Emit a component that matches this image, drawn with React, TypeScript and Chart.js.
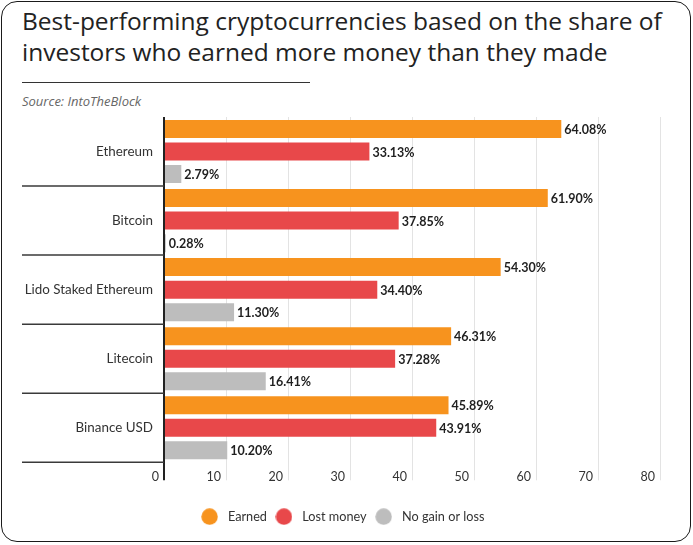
import React, { useEffect, useRef } from 'react';
import { Chart, registerables } from 'chart.js';

Chart.register(...registerables);

const categories = ['Ethereum', 'Bitcoin', 'Lido Staked Ethereum', 'Litecoin', 'Binance USD'];
const earned = [64.08, 61.9, 54.3, 46.31, 45.89];
const lostMoney = [33.13, 37.85, 34.4, 37.28, 43.91];
const noGainOrLoss = [2.79, 0.28, 11.3, 16.41, 10.2];
const seriesNames = ['Earned', 'Lost money', 'No gain or loss'];
const seriesColors = ['#F7931E', '#E8484A', '#BDBDBD'];
const xMin = 0;
const xMax = 80;
const xStep = 10;

const FONT = 'Lato, "Noto Sans", sans-serif';

function circleImage(color: string) {
  const c = document.createElement('canvas');
  c.width = 17;
  c.height = 17;
  const g = c.getContext('2d')!;
  g.fillStyle = color;
  g.beginPath();
  g.arc(8.5, 8.5, 8.2, 0, Math.PI * 2);
  g.fill();
  return c;
}

const separatorPlugin = {
  id: 'separators',
  afterLayout(chart: any) {
    // center the legend on the full canvas width rather than the padded area
    const lg = chart.legend;
    if (lg) {
      lg.left += 11;
      lg.right += 11;
    }
  },
  afterDraw(chart: any) {
    const y = chart.scales.y;
    const ctx = chart.ctx;
    const n = categories.length;
    ctx.save();
    ctx.strokeStyle = '#3a3a3a';
    ctx.lineWidth = 1.5;
    for (let i = 0; i < n; i++) {
      let b;
      if (i < n - 1) b = (y.getPixelForValue(i) + y.getPixelForValue(i + 1)) / 2;
      else b = y.getPixelForValue(i) + (y.getPixelForValue(i) - y.getPixelForValue(i - 1)) / 2;
      ctx.beginPath();
      ctx.moveTo(22, b);
      ctx.lineTo(chart.chartArea.left, b);
      ctx.stroke();
    }
    ctx.restore();
  },
};

const valueLabelPlugin = {
  id: 'valueLabels',
  afterDatasetsDraw(chart: any) {
    const ctx = chart.ctx;
    ctx.save();
    ctx.font = `bold 12.5px ${FONT}`;
    ctx.fillStyle = '#1f1f1f';
    ctx.textAlign = 'left';
    ctx.textBaseline = 'middle';
    chart.data.datasets.forEach((ds: any, di: number) => {
      const meta = chart.getDatasetMeta(di);
      meta.data.forEach((el: any, i: number) => {
        const v = ds.data[i] as number;
        ctx.fillText(v.toFixed(2) + '%', el.x + 3, el.y + 1);
      });
    });
    ctx.restore();
  },
};

function App() {
  const ref = useRef<HTMLCanvasElement | null>(null);

  useEffect(() => {
    if (!ref.current) return;
    const circles = seriesColors.map(circleImage);
    const chart = new Chart(ref.current, {
      type: 'bar',
      data: {
        labels: categories,
        datasets: [earned, lostMoney, noGainOrLoss].map((d, i) => ({
          label: seriesNames[i],
          data: d,
          backgroundColor: seriesColors[i],
          borderWidth: 0,
          categoryPercentage: 0.98,
          barPercentage: 0.8,
        })),
      },
      options: {
        indexAxis: 'y',
        animation: false,
        responsive: false,
        layout: { padding: { left: 0, right: 33, top: 7, bottom: 12 } },
        scales: {
          x: {
            min: xMin,
            max: xMax,
            ticks: {
              stepSize: xStep,
              align: 'end',
              labelOffset: -5,
              padding: -11,
              color: '#333',
              font: { family: FONT, size: 12.5 },
            },
            grid: {
              color: (c: any) => (c.tick && c.tick.value === 0 ? '#222' : '#e3e3e3'),
              lineWidth: (c: any) => (c.tick && c.tick.value === 0 ? 2 : 1),
              drawTicks: true,
              tickLength: 18,
            },
            border: { display: false },
            afterFit: (s: any) => {
              s.height = 43;
            },
          },
          y: {
            ticks: {
              color: '#333',
              font: { family: FONT, size: 13.4 },
              padding: 11,
            },
            grid: { display: false, drawTicks: false },
            border: { display: false },
            afterFit: (s: any) => {
              s.width = 164;
              s.paddingTop = 0;
              s.paddingBottom = 0;
            },
          },
        },
        plugins: {
          legend: {
            position: 'bottom',
            labels: {
              usePointStyle: true,
              pointStyleWidth: 24,
              color: '#333',
              font: { family: FONT, size: 12.7 },
              padding: 5,
              generateLabels: (ch: any) => {
                const items = Chart.defaults.plugins.legend.labels.generateLabels(ch);
                items.forEach((it: any, i: number) => {
                  it.pointStyle = circles[i];
                });
                return items;
              },
            },
          },
          tooltip: { enabled: false },
        },
      },
      plugins: [separatorPlugin, valueLabelPlugin],
    } as any);
    return () => chart.destroy();
  }, []);

  return (
    <div
      style={{
        position: 'absolute',
        left: 0,
        top: 0,
        width: 693,
        height: 545,
        background: '#fff',
        overflow: 'hidden',
      }}
    >
      <div
        style={{
          position: 'absolute',
          left: 1,
          top: 1,
          width: 690,
          height: 541,
          boxSizing: 'border-box',
          border: '1.5px solid #1a1a1a',
          borderRadius: 16,
        }}
      />
      <div
        style={{
          position: 'absolute',
          left: 22,
          top: 5,
          width: 668,
          fontFamily: '"Open Sans", "Noto Sans", sans-serif',
          fontSize: 24.5,
          lineHeight: '31px',
          color: '#222',
        }}
      >
        Best-performing cryptocurrencies based on the share of investors who earned more money than they made
      </div>
      <div
        style={{
          position: 'absolute',
          left: 22,
          top: 82,
          width: 288,
          height: 1,
          background: '#333',
        }}
      />
      <div
        style={{
          position: 'absolute',
          left: 22,
          top: 92,
          fontFamily: '"Open Sans", "Noto Sans", sans-serif',
          fontStyle: 'italic',
          fontSize: 13,
          color: '#666',
        }}
      >
        Source: IntoTheBlock
      </div>
      <canvas
        ref={ref}
        width={693}
        height={435}
        style={{ position: 'absolute', left: 0, top: 110, width: 693, height: 435 }}
      />
    </div>
  );
}

export default App;
